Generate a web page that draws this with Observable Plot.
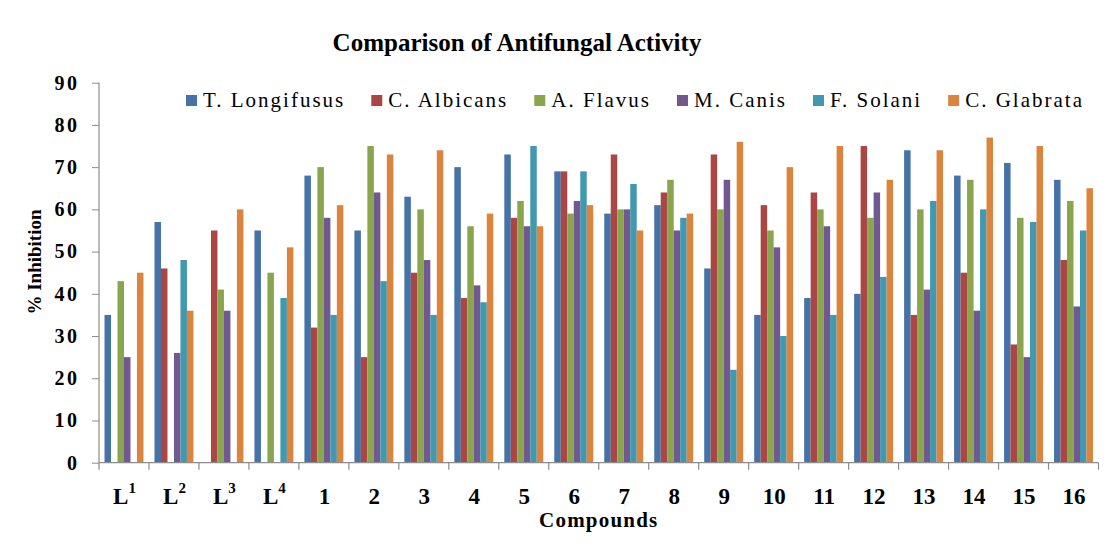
<!DOCTYPE html>
<html>
<head>
<meta charset="utf-8">
<script src="https://cdn.jsdelivr.net/npm/d3@7"></script>
<script src="https://cdn.jsdelivr.net/npm/@observablehq/plot@0.6"></script>
<style>
  html, body { margin: 0; padding: 0; background: #fff; }
  #chart { width: 1110px; height: 550px; }
</style>
</head>
<body>
<div id="chart"></div>
<script>
// ---- data ----
const groups = ["L1","L2","L3","L4","1","2","3","4","5","6","7","8","9","10","11","12","13","14","15","16"];
const series = ["T. Longifusus","C. Albicans","A. Flavus","M. Canis","F. Solani","C. Glabrata"];
const colors = ["#4572A7","#AA4643","#89A54E","#71588F","#4198AF","#DB843D"];
const tLongifusus = [35,57,0,55,68,55,63,70,73,69,59,61,46,35,39,40,74,68,71,67];
const cAlbicans   = [0,46,55,0,32,25,45,39,58,69,73,64,73,61,64,75,35,45,28,48];
const aFlavus     = [43,0,41,45,70,75,60,56,62,59,60,67,60,55,60,58,60,67,58,62];
const mCanis      = [25,26,36,0,58,64,48,42,56,62,60,55,67,51,56,64,41,36,25,37];
const fSolani     = [0,48,0,39,35,43,35,38,75,69,66,58,22,30,35,44,62,60,57,55];
const cGlabrata   = [45,36,60,51,61,73,74,59,56,61,55,59,76,70,75,67,74,77,75,65];
const yTicks = [0,10,20,30,40,50,60,70,80,90];
const titleText = "Comparison of Antifungal Activity";
const xLabel = "Compounds";
const yLabel = "% Inhibition";

const seriesValues = [tLongifusus, cAlbicans, aFlavus, mCanis, fSolani, cGlabrata];
const data = groups.flatMap((g, i) =>
  series.map((s, j) => ({group: g, series: s, value: seriesValues[j][i]}))
).filter(d => d.value > 0);

const FONT = "'Liberation Serif', 'Times New Roman', serif";
const AXIS = "#8c8c8c";

const chart = Plot.plot({
  width: 1110,
  height: 550,
  marginLeft: 99,
  marginRight: 11.5,
  marginTop: 82.7,
  marginBottom: 87.3,
  style: {fontFamily: FONT, fontSize: "20px", color: "#000", background: "#fff", overflow: "visible"},
  fx: {domain: groups, padding: 0, round: false, label: null},
  x: {domain: series, paddingInner: 0, paddingOuter: 0.85, round: false, axis: null},
  y: {domain: [0, 90], label: null},
  color: {domain: series, range: colors},
  marks: [
    Plot.axisY({ticks: yTicks, tickSize: 7, tickPadding: 13, stroke: AXIS, fill: "#000",
      fontWeight: "bold", fontSize: 20, label: null}),
    Plot.axisFx({anchor: "bottom", tickSize: 0, tickPadding: 24, fontWeight: "bold", fontSize: 23, fill: "#000", label: null}),
    Plot.barY(data, {fx: "group", x: "series", y: "value", fill: "series"})
  ]
});
document.getElementById("chart").appendChild(chart);

const svg = d3.select(chart);
const fx = chart.scale("fx");
const y = chart.scale("y");
const y0 = y.apply(0);
const yTop = y.apply(90);
const xLeft = fx.range[0];
const xRight = fx.range[1];

// letter spacing on y tick labels
svg.selectAll('g[aria-label="y-axis tick label"] text').style("letter-spacing", "2.5px");

// superscripts on L labels
svg.selectAll('g[aria-label="fx-axis tick label"] text').each(function() {
  const t = d3.select(this);
  const s = t.text();
  const m = /^L(\d)$/.exec(s);
  if (m) {
    t.text("L");
    t.append("tspan").attr("font-size", 15).attr("dy", "-11").text(m[1]);
  }
});

// axis lines and group-boundary ticks
const ax = svg.append("g").attr("stroke", AXIS).attr("stroke-width", 1.2);
ax.append("line").attr("x1", xLeft).attr("x2", xLeft).attr("y1", yTop).attr("y2", y0);
ax.append("line").attr("x1", xLeft).attr("x2", xRight).attr("y1", y0).attr("y2", y0);
groups.forEach(g => {
  const gx = fx.apply(g);
  ax.append("line").attr("x1", gx).attr("x2", gx).attr("y1", y0).attr("y2", y0 + 7);
});
ax.append("line").attr("x1", xRight).attr("x2", xRight).attr("y1", y0).attr("y2", y0 + 7);

// title
svg.append("text")
  .attr("x", 517).attr("y", 50.5)
  .attr("text-anchor", "middle")
  .attr("font-family", FONT).attr("font-weight", "bold").attr("font-size", 25)
  .attr("fill", "#000")
  .text(titleText);

// x label
svg.append("text")
  .attr("x", (xLeft + xRight) / 2).attr("y", 527)
  .attr("text-anchor", "middle")
  .attr("font-family", FONT).attr("font-weight", "bold").attr("font-size", 21)
  .style("letter-spacing", "1.2px")
  .attr("fill", "#000")
  .text(xLabel);

// y label
svg.append("text")
  .attr("transform", "translate(41,262) rotate(-90)")
  .attr("text-anchor", "middle")
  .attr("font-family", FONT).attr("font-weight", "bold").attr("font-size", 19)
  .attr("fill", "#000")
  .text(yLabel);

// legend
const lg = svg.append("g").attr("font-family", FONT).attr("font-size", 21).attr("text-anchor", "start");
let lx = 186;
series.forEach((s, i) => {
  lg.append("rect").attr("x", lx).attr("y", 95).attr("width", 11).attr("height", 11).attr("fill", colors[i]);
  const t = lg.append("text").attr("x", lx + 17).attr("y", 106.7).attr("text-anchor", "start")
    .style("letter-spacing", "2px").attr("fill", "#000").text(s);
  lx = lx + 17 + t.node().getComputedTextLength() + 26;
});
</script>
</body>
</html>
